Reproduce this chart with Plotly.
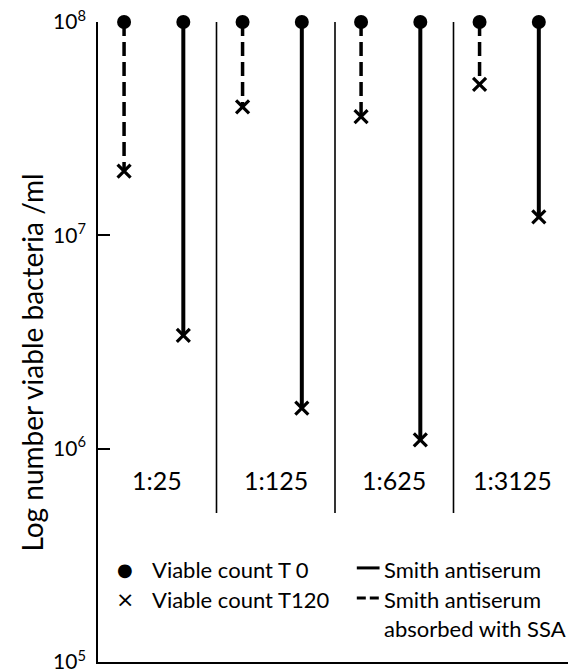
import plotly.graph_objects as go

# ---- data ----
dilutions = ["1:25", "1:125", "1:625", "1:3125"]
t0_absorbed = [1e8, 1e8, 1e8, 1e8]          # Smith antiserum absorbed with SSA, T 0
t120_absorbed = [2.0e7, 4.0e7, 3.6e7, 5.1e7]  # absorbed, T 120
t0_smith = [1e8, 1e8, 1e8, 1e8]             # Smith antiserum, T 0
t120_smith = [3.4e6, 1.55e6, 1.1e6, 1.22e7]   # Smith antiserum, T 120
y_tickvals = [1e5, 1e6, 1e7, 1e8]
y_ticktext = ["10<sup>5</sup>", "10<sup>6</sup>", "10<sup>7</sup>", "10<sup>8</sup>"]

FONT = "Lato"
ABS_OFF = 0.22
SMI_OFF = 0.72

fig = go.Figure()

for i in range(len(dilutions)):
    fig.add_trace(go.Scatter(
        x=[i + ABS_OFF, i + ABS_OFF], y=[t0_absorbed[i], t120_absorbed[i]],
        mode="lines", line=dict(color="black", width=3.5, dash="14px,6px"),
        showlegend=False, hoverinfo="skip", cliponaxis=False))
    fig.add_trace(go.Scatter(
        x=[i + SMI_OFF, i + SMI_OFF], y=[t0_smith[i], t120_smith[i]],
        mode="lines", line=dict(color="black", width=4),
        showlegend=False, hoverinfo="skip", cliponaxis=False))

xs_abs = [i + ABS_OFF for i in range(len(dilutions))]
xs_smi = [i + SMI_OFF for i in range(len(dilutions))]

fig.add_trace(go.Scatter(
    x=xs_abs + xs_smi, y=t0_absorbed + t0_smith, mode="markers",
    marker=dict(symbol="circle", size=14, color="black"),
    showlegend=False, cliponaxis=False))
fig.add_trace(go.Scatter(
    x=xs_abs + xs_smi, y=t120_absorbed + t120_smith, mode="markers",
    marker=dict(symbol="x-thin-open", size=13, color="black",
                line=dict(color="black", width=3.2)),
    showlegend=False, cliponaxis=False))

# group separators
for i in range(1, len(dilutions) + 1):
    fig.add_shape(type="line", xref="x", yref="paper", x0=i, x1=i, y0=0.233, y1=1.0,
                  line=dict(color="black", width=1.6))

# dilution labels
for i, d in enumerate(dilutions):
    fig.add_annotation(x=i + 0.5, y=0.285, xref="x", yref="paper", text=d,
                       xanchor="center", yanchor="middle",
                       showarrow=False, font=dict(family=FONT, size=25, color="black"))

# y-axis title
fig.add_annotation(x=-0.139, y=0.468, xref="paper", yref="paper",
                   text="Log number viable bacteria /ml", textangle=-90,
                   xanchor="center", yanchor="middle",
                   showarrow=False, font=dict(family=FONT, size=28, color="black"))

# legend (manual, two columns)
lf = dict(family=FONT, size=22, color="black")
R1, R2, R3 = 0.1440, 0.0970, 0.0530
fig.add_annotation(x=0.057, y=R1, xref="paper", yref="paper", text="●",
                   xanchor="center", yanchor="middle",
                   showarrow=False, font=dict(family="DejaVu Sans", size=18, color="black"))
fig.add_annotation(x=0.1097, y=R1, xref="paper", yref="paper", text="Viable count T 0",
                   showarrow=False, xanchor="left", yanchor="middle", font=lf)
fig.add_annotation(x=0.057, y=R2, xref="paper", yref="paper", text="×",
                   xanchor="center", yanchor="middle",
                   showarrow=False, font=dict(family="DejaVu Sans", size=22, color="black"))
fig.add_annotation(x=0.1097, y=R2, xref="paper", yref="paper", text="Viable count T120",
                   showarrow=False, xanchor="left", yanchor="middle", font=lf)
fig.add_shape(type="line", xref="paper", yref="paper", x0=0.546, x1=0.594, y0=R1 + 0.003, y1=R1 + 0.003,
              line=dict(color="black", width=3))
fig.add_shape(type="line", xref="paper", yref="paper", x0=0.546, x1=0.594, y0=R2 + 0.003, y1=R2 + 0.003,
              line=dict(color="black", width=3, dash="9px,4px"))
fig.add_annotation(x=0.599, y=R1, xref="paper", yref="paper", text="Smith antiserum",
                   showarrow=False, xanchor="left", yanchor="middle", font=lf)
fig.add_annotation(x=0.599, y=R2, xref="paper", yref="paper", text="Smith antiserum",
                   showarrow=False, xanchor="left", yanchor="middle", font=lf)
fig.add_annotation(x=0.599, y=R3, xref="paper", yref="paper", text="absorbed with SSA",
                   showarrow=False, xanchor="left", yanchor="middle", font=lf)

# page body has an 8px margin, so the figure is sized/offset to compensate
fig.update_layout(
    width=568, height=663,
    margin=dict(l=90, r=4, t=14, b=9, autoexpand=False),
    paper_bgcolor="white", plot_bgcolor="white",
    font=dict(family=FONT, size=20, color="black"),
    showlegend=False,
    xaxis=dict(range=[0, 4], showline=True, linecolor="black", linewidth=1.6,
               showgrid=False, zeroline=False, showticklabels=False, ticks="",
               automargin=False),
    yaxis=dict(type="log", range=[5, 8], showline=True, linecolor="black", linewidth=1.6,
               showgrid=False, zeroline=False, tickvals=y_tickvals, ticktext=y_ticktext,
               ticks="inside", ticklen=12, tickwidth=1.6, tickcolor="black",
               ticklabelstandoff=6, ticklabeloverflow="allow", automargin=False,
               tickfont=dict(family=FONT, size=21, color="black")),
)

fig.write_html("out.html")
